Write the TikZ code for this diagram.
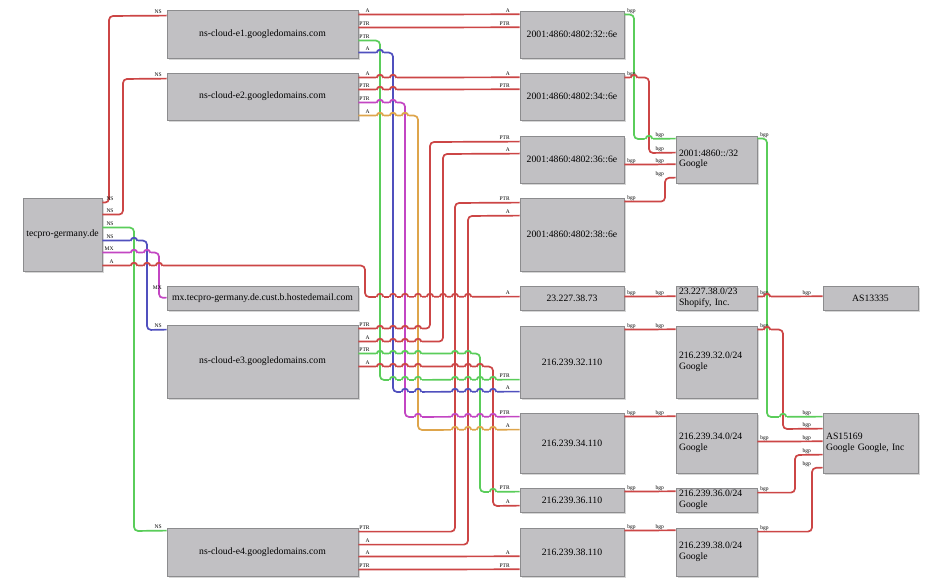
\documentclass[tikz,border=0pt]{standalone}
\usepackage{fontspec}
\setmainfont{Liberation Serif}
\usetikzlibrary{shadows}
\definecolor{cred}{RGB}{204,70,70}
\definecolor{cgreen}{RGB}{90,205,90}
\definecolor{cblue}{RGB}{80,80,190}
\definecolor{cmag}{RGB}{195,70,195}
\definecolor{corange}{RGB}{222,165,75}
\definecolor{boxfill}{RGB}{193,192,195}
\definecolor{boxline}{RGB}{140,140,142}
\definecolor{shadowc}{RGB}{214,214,214}
\newcommand\dbox[7][]{\node[box,minimum width={(#5-#3)*1pt},minimum height={(#6-#4)*1pt},#1] (#2) at ({(#3+#5)/2},{(#4+#6)/2}) {#7};}
\newcommand\hops[3]{\foreach \hx/\vc in {#3}{%
 \fill[white] (\hx-3.9,#1-1.3) rectangle (\hx+3.9,#1+1.3);
 \draw[edge,draw=\vc] (\hx,#1-3.5) -- (\hx,#1+3.5);
 \draw[edge,draw=#2] (\hx-3.3,#1) .. controls (\hx-3.3,#1-4.4) and (\hx+3.3,#1-4.4) .. (\hx+3.3,#1);}}
\begin{document}
\begin{tikzpicture}[x=1pt,y=-1pt,
  box/.style={draw=boxline,fill=boxfill,line width=0.8pt,inner sep=0pt,
    drop shadow={shadow xshift=2pt,shadow yshift=-2pt,fill=shadowc,opacity=1},
    font=\fontsize{9.7}{10.4}\selectfont,align=center},
  gbox/.style={align=left,text width=75pt},
  edge/.style={line width=1.7pt,rounded corners=4pt},
  lab/.style={font=\fontsize{5.5}{6}\selectfont,inner sep=0pt,anchor=base east,yshift=2.2pt},
  slab/.style={lab,xshift=12pt},
  tlabn/.style={lab,xshift=-4pt},
  tlab/.style={lab,xshift=-9pt},
  tlabb/.style={lab,xshift=-11pt}]
\useasboundingbox (0,0) rectangle (940,585);
\fill[white] (0,0) rectangle (940,585);
% nodes
\dbox{tec}{23}{198}{102}{271}{tecpro-germany.de}
\dbox{e1}{167}{10}{358}{58}{ns-cloud-e1.googledomains.com}
\dbox{e2}{167}{73}{358}{120}{ns-cloud-e2.googledomains.com}
\dbox{mx}{167}{286}{358}{310}{mx.tecpro-germany.de.cust.b.hostedemail.com}
\dbox{e3}{167}{325}{358}{398}{ns-cloud-e3.googledomains.com}
\dbox{e4}{167}{528}{358}{576}{ns-cloud-e4.googledomains.com}
\dbox{v632}{520}{11}{624}{58}{2001:4860:4802:32::6e}
\dbox{v634}{520}{73}{624}{120}{2001:4860:4802:34::6e}
\dbox{v636}{520}{136}{624}{183}{2001:4860:4802:36::6e}
\dbox{v638}{520}{198}{624}{271}{2001:4860:4802:38::6e}
\dbox{ip73}{520}{286}{624}{310}{23.227.38.73}
\dbox{ip32}{520}{326}{624}{398}{216.239.32.110}
\dbox{ip34}{520}{413}{624}{473}{216.239.34.110}
\dbox{ip36}{520}{488}{624}{512}{216.239.36.110}
\dbox{ip38}{520}{528}{624}{576}{216.239.38.110}
\dbox[gbox]{pv6}{676}{136}{757}{183}{2001:4860::/32\\Google}
\dbox[gbox]{pshop}{676}{286}{757}{310}{23.227.38.0/23\\Shopify, Inc.}
\dbox[gbox]{p32}{676}{326}{757}{398}{216.239.32.0/24\\Google}
\dbox[gbox]{p34}{676}{413}{757}{473}{216.239.34.0/24\\Google}
\dbox[gbox]{p36}{676}{488}{757}{512}{216.239.36.0/24\\Google}
\dbox[gbox]{p38}{676}{528}{757}{576}{216.239.38.0/24\\Google}
\dbox{as13335}{823}{286}{918}{310}{AS13335}
\dbox[align=left,text width=89pt]{as15169}{823}{413}{918}{473}{AS15169\\Google Google, Inc}
% tecpro edges
\draw[edge,draw=cred] ([yshift=-5pt]tec.north east) node[slab]{NS} -| (109,16) -- ([yshift=-6pt]e1.north west) node[tlabn]{NS};
\draw[edge,draw=cred] ([yshift=-17pt]tec.north east) node[slab]{NS} -| (123,79) -- ([yshift=-6pt]e2.north west) node[tlabn]{NS};
\draw[edge,draw=cgreen] ([yshift=-30pt]tec.north east) node[slab]{NS} -| (134,531) -- ([yshift=-3pt]e4.north west) node[tlabn]{NS};
\draw[edge,draw=cblue] ([yshift=-43pt]tec.north east) node[slab]{NS} -| (147,330) -- ([yshift=-5pt]e3.north west) node[tlabn]{NS};
\draw[edge,draw=cmag] ([yshift=-55pt]tec.north east) node[slab]{MX} -| (159,298) -- ([yshift=-12pt]mx.north west) node[tlabn,yshift=6pt]{MX};
\draw[edge,draw=cred] ([yshift=-68pt]tec.north east) node[slab]{A} -| (365,297) -- ([yshift=-11pt]ip73.north west) node[tlab]{A};
% e1
\draw[edge,draw=cred] ([yshift=-5pt]e1.north east) node[slab]{A} -- ([yshift=-3.7pt]v632.north west) node[tlab]{A};
\draw[edge,draw=cred] ([yshift=-18pt]e1.north east) node[slab]{PTR} -- ([yshift=-16.7pt]v632.north west) node[tlab]{PTR};
\draw[edge,draw=cgreen] ([yshift=-31pt]e1.north east) node[slab]{PTR} -| (380,380) -- ([yshift=-54pt]ip32.north west) node[tlab]{PTR};
\draw[edge,draw=cblue] ([yshift=-43pt]e1.north east) node[slab]{A} -| (393,392) -- ([yshift=-66pt]ip32.north west) node[tlab]{A};
% e2
\draw[edge,draw=cred] ([yshift=-5pt]e2.north east) node[slab]{A} -- ([yshift=-4.7pt]v634.north west) node[tlab]{A};
\draw[edge,draw=cred] ([yshift=-17pt]e2.north east) node[slab]{PTR} -- ([yshift=-16.7pt]v634.north west) node[tlab]{PTR};
\draw[edge,draw=cmag] ([yshift=-30pt]e2.north east) node[slab]{PTR} -| (405,417) -- ([yshift=-4pt]ip34.north west) node[tlab]{PTR};
\draw[edge,draw=corange] ([yshift=-43pt]e2.north east) node[slab]{A} -| (418,430) -- ([yshift=-17pt]ip34.north west) node[tlab]{A};
% e3
\draw[edge,draw=cred] ([yshift=-4pt]e3.north east) node[slab]{PTR} -| (430,142) -- ([yshift=-6pt]v636.north west) node[tlab]{PTR};
\draw[edge,draw=cred] ([yshift=-17pt]e3.north east) node[slab]{A} -| (443,154) -- ([yshift=-18pt]v636.north west) node[tlab]{A};
\draw[edge,draw=cgreen] ([yshift=-29pt]e3.north east) node[slab]{PTR} -| (480,492) -- ([yshift=-4pt]ip36.north west) node[tlab]{PTR};
\draw[edge,draw=cred] ([yshift=-42pt]e3.north east) node[slab]{A} -| (493,506) -- ([yshift=-18pt]ip36.north west) node[tlab]{A};
% e4
\draw[edge,draw=cred] ([yshift=-4pt]e4.north east) node[slab]{PTR} -| (455,203) -- ([yshift=-5pt]v638.north west) node[tlab]{PTR};
\draw[edge,draw=cred] ([yshift=-17pt]e4.north east) node[slab]{A} -| (468,216) -- ([yshift=-18pt]v638.north west) node[tlab]{A};
\draw[edge,draw=cred] ([yshift=-29pt]e4.north east) node[slab]{A} -- ([yshift=-28.7pt]ip38.north west) node[tlab]{A};
\draw[edge,draw=cred] ([yshift=-42pt]e4.north east) node[slab]{PTR} -- ([yshift=-41.7pt]ip38.north west) node[tlab]{PTR};
% bgp
\draw[edge,draw=cgreen] ([yshift=-4pt]v632.north east) node[slab]{bgp} -| (634,139) -- ([yshift=-3pt]pv6.north west) node[tlabb]{bgp};
\draw[edge,draw=cred] ([yshift=-5pt]v634.north east) node[slab]{bgp} -| (649,153) -- ([yshift=-17pt]pv6.north west) node[tlabb]{bgp};
\draw[edge,draw=cred] ([yshift=-29pt]v636.north east) node[slab]{bgp} -- ([yshift=-28.7pt]pv6.north west) node[tlabb]{bgp};
\draw[edge,draw=cred] ([yshift=-4pt]v638.north east) node[slab]{bgp} -| (665,178) -- ([yshift=-42pt]pv6.north west) node[tlabb]{bgp};
\draw[edge,draw=cgreen] ([yshift=-3pt]pv6.north east) node[slab]{bgp} -| (767,417) -- ([yshift=-4pt]as15169.north west) node[tlabb]{bgp};
\draw[edge,draw=cred] ([yshift=-11pt]ip73.north east) node[slab]{bgp} -- ([yshift=-10.7pt]pshop.north west) node[tlabb]{bgp};
\draw[edge,draw=cred] ([yshift=-11pt]pshop.north east) node[slab]{bgp} -- ([yshift=-10.7pt]as13335.north west) node[tlabb]{bgp};
\draw[edge,draw=cred] ([yshift=-4pt]ip32.north east) node[slab]{bgp} -- ([yshift=-3.7pt]p32.north west) node[tlabb]{bgp};
\draw[edge,draw=cred] ([yshift=-4pt]p32.north east) node[slab]{bgp} -| (783,429) -- ([yshift=-16pt]as15169.north west) node[tlabb]{bgp};
\draw[edge,draw=cred] ([yshift=-4pt]ip34.north east) node[slab]{bgp} -- ([yshift=-3.7pt]p34.north west) node[tlabb]{bgp};
\draw[edge,draw=cred] ([yshift=-29pt]p34.north east) node[slab]{bgp} -- ([yshift=-28.7pt]as15169.north west) node[tlabb]{bgp};
\draw[edge,draw=cred] ([yshift=-4pt]ip36.north east) node[slab]{bgp} -- ([yshift=-3.7pt]p36.north west) node[tlabb]{bgp};
\draw[edge,draw=cred] ([yshift=-5pt]p36.north east) node[slab]{bgp} -| (795,455) -- ([yshift=-42pt]as15169.north west) node[tlabb]{bgp};
\draw[edge,draw=cred] ([yshift=-3pt]ip38.north east) node[slab]{bgp} -- ([yshift=-2.7pt]p38.north west) node[tlabb]{bgp};
\draw[edge,draw=cred] ([yshift=-4pt]p38.north east) node[slab]{bgp} -| (812,468) -- ([yshift=-55pt]as15169.north west) node[tlabb]{bgp};
% line hops
\hops{241}{cblue}{134/cgreen}
\hops{253}{cmag}{134/cgreen,147/cblue}
\hops{266}{cred}{134/cgreen,147/cblue,159/cmag}
\hops{53}{cblue}{380/cgreen}
\hops{78}{cred}{380/cgreen,393/cblue,634/cgreen}
\hops{90}{cred}{380/cgreen,393/cblue}
\hops{103}{cmag}{380/cgreen,393/cblue}
\hops{116}{corange}{380/cgreen,393/cblue,405/cmag}
\hops{297}{cred}{380/cgreen,393/cblue,405/cmag,418/corange,430/cred,443/cred,455/cred,468/cred,767/cgreen}
\hops{329}{cred}{380/cgreen,393/cblue,405/cmag,418/corange}
\hops{342}{cred}{380/cgreen,393/cblue,405/cmag,418/corange}
\hops{354}{cgreen}{380/cgreen,393/cblue,405/cmag,418/corange,455/cred,468/cred}
\hops{367}{cred}{380/cgreen,393/cblue,405/cmag,418/corange,455/cred,468/cred,480/cgreen}
\hops{380}{cgreen}{393/cblue,405/cmag,418/corange,455/cred,468/cred,480/cgreen,493/cred}
\hops{392}{cblue}{405/cmag,418/corange,455/cred,468/cred,480/cgreen,493/cred}
\hops{417}{cmag}{418/corange,455/cred,468/cred,480/cgreen,493/cred}
\hops{430}{corange}{455/cred,468/cred,480/cgreen,493/cred}
\hops{492}{cgreen}{493/cred}
\hops{139}{cgreen}{649/cred}
\hops{330}{cred}{767/cgreen}
\hops{417}{cgreen}{783/cred}
\end{tikzpicture}
\end{document}
